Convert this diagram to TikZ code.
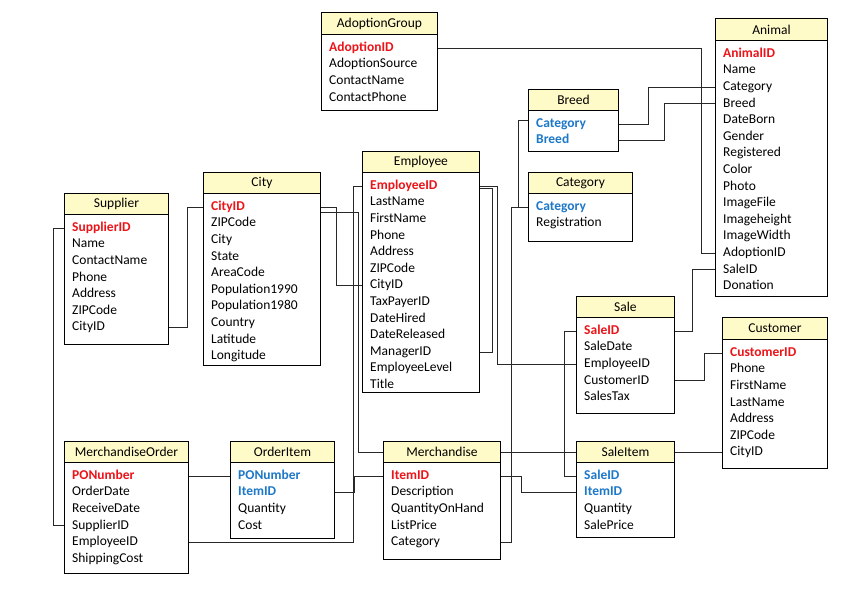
\documentclass[tikz,border=0pt]{standalone}
\usepackage{fontspec}
\setmainfont{Carlito}
\definecolor{hdrfill}{RGB}{255,251,200}
\definecolor{keyred}{RGB}{235,20,25}
\definecolor{keyblue}{RGB}{30,120,200}
\definecolor{linegray}{RGB}{40,40,40}
\tikzset{
  hdr/.style={draw=black,fill=hdrfill,line width=0.9pt,inner sep=0,font=\fontsize{13.5}{15}\selectfont},
  body/.style={draw=black,fill=white,line width=0.9pt,inner sep=0},
  row/.style={inner sep=0,text height=9.5pt,text depth=3pt,font=\fontsize{13.5}{16}\selectfont},
  n/.style={},
  k/.style={text=keyred,font=\fontsize{13.5}{16}\selectfont\bfseries},
  f/.style={text=keyblue,font=\fontsize{13.5}{16}\selectfont\bfseries},
  conn/.style={draw=linegray,line width=0.8pt}
}
\newcommand\tbl[8]{%
  \pgfmathsetmacro\hh{#4-#3}\pgfmathsetmacro\bh{#5-#4}%
  \node[hdr,minimum width=#6pt,minimum height=\hh pt,anchor=north west] (#1-h) at (#2,#3) {#7};
  \node[body,minimum width=#6pt,minimum height=\bh pt,anchor=north west] (#1) at (#2,#4) {};
  \foreach \s/\t [count=\i] in {#8} {\node[row,\s,anchor=west] (#1-\i) at (#2+8,#4+14+\i*16.6-16.6) {\t};}
}
\begin{document}
\begin{tikzpicture}[x=1pt,y=-1pt]
\useasboundingbox[fill=white] (0,0) rectangle (868,595);
\tbl{AG}{321}{12}{34}{110}{116}{AdoptionGroup}{k/AdoptionID,n/AdoptionSource,n/ContactName,n/ContactPhone}
\tbl{Animal}{715}{18}{40}{296}{112}{Animal}{k/AnimalID,n/Name,n/Category,n/Breed,n/DateBorn,n/Gender,n/Registered,n/Color,n/Photo,n/ImageFile,n/Imageheight,n/ImageWidth,n/AdoptionID,n/SaleID,n/Donation}
\tbl{Breed}{528}{89}{110}{151}{90}{Breed}{f/Category,f/Breed}
\tbl{Category}{528}{172}{193}{241}{104}{Category}{f/Category,n/Registration}
\tbl{Emp}{362}{151}{172}{392}{117}{Employee}{k/EmployeeID,n/LastName,n/FirstName,n/Phone,n/Address,n/ZIPCode,n/CityID,n/TaxPayerID,n/DateHired,n/DateReleased,n/ManagerID,n/EmployeeLevel,n/Title}
\tbl{City}{203}{172}{193}{365}{117}{City}{k/CityID,n/ZIPCode,n/City,n/State,n/AreaCode,n/Population1990,n/Population1980,n/Country,n/Latitude,n/Longitude}
\tbl{Sup}{64}{193}{214}{344}{104}{Supplier}{k/SupplierID,n/Name,n/ContactName,n/Phone,n/Address,n/ZIPCode,n/CityID}
\tbl{Sale}{576}{296}{317}{413}{98}{Sale}{k/SaleID,n/SaleDate,n/EmployeeID,n/CustomerID,n/SalesTax}
\tbl{Cust}{722}{317}{339}{468}{105}{Customer}{k/CustomerID,n/Phone,n/FirstName,n/LastName,n/Address,n/ZIPCode,n/CityID}
\tbl{MO}{64}{441}{462}{573}{124}{MerchandiseOrder}{k/PONumber,n/OrderDate,n/ReceiveDate,n/SupplierID,n/EmployeeID,n/ShippingCost}
\tbl{OI}{230}{441}{462}{538}{104}{OrderItem}{f/PONumber,f/ItemID,n/Quantity,n/Cost}
\tbl{Merch}{383}{441}{462}{559}{117}{Merchandise}{k/ItemID,n/Description,n/QuantityOnHand,n/ListPrice,n/Category}
\tbl{SI}{576}{441}{462}{537}{98}{SaleItem}{f/SaleID,f/ItemID,n/Quantity,n/SalePrice}

\draw[conn] (AG.east|-AG-1) -- ++(263,0) |- (Animal.west|-Animal-13);
\draw[conn] (Breed.east|-Breed-1) -- ++(29,0) |- (Animal.west|-Animal-3);
\draw[conn] (Breed.east|-Breed-2) -- ++(45,0) |- (Animal.west|-Animal-4);
\draw[conn] ([yshift=4pt]Breed.west|-Breed-1) -- ++(-10,0) |- (Category.west|-Category-1);
\draw[conn] (Category.west|-Category-1) -- ++(-17,0) |- (Merch.east|-Merch-5);
\draw[conn] (Sale.east|-Sale-1) -- ++(17,0) |- (Animal.west|-Animal-14);
\draw[conn] (Sale.east|-Sale-4) -- ++(29,0) |- (Cust.west|-Cust-1);
\draw[conn] (SI-h.east) -- (Cust.west|-SI-h);
\draw[conn] (Merch-h.east) -- (SI-h.west);
\draw[conn] (Merch.east|-Merch-1) -- ++(20,0) |- (SI.west|-SI-2);
\draw[conn] (Sale.west|-Sale-1) -- ++(-12,0) |- (SI.west|-SI-1);
\draw[conn] (Emp.east|-Emp-1) -- ++(17,0) |- (Sale.west|-Sale-3);
\draw[conn] ([yshift=-2pt]Emp.east|-Emp-1) -- ++(12,0) |- (Emp.east|-Emp-11);
\draw[conn] (Emp.west|-Emp-1) -- ++(-9,0) |- (MO.east|-MO-5);
\draw[conn] (City.east|-City-1) -- ++(15,0) |- (Emp.west|-Emp-7);
\draw[conn] ([yshift=-5pt]City.east|-City-1) -- ++(37,0) |- (Merch-h.west);
\draw[conn] (Sup.east|-Sup-7) -- ++(18,0) |- (City.west|-City-1);
\draw[conn] (Sup.west|-Sup-1) -- ++(-11,0) |- (MO.west|-MO-4);
\draw[conn] (MO.east|-MO-1) -- (OI.west|-OI-1);
\draw[conn] (OI.east|-OI-2) -- ++(19,0) |- (Merch.west|-Merch-1);
\end{tikzpicture}
\end{document}
